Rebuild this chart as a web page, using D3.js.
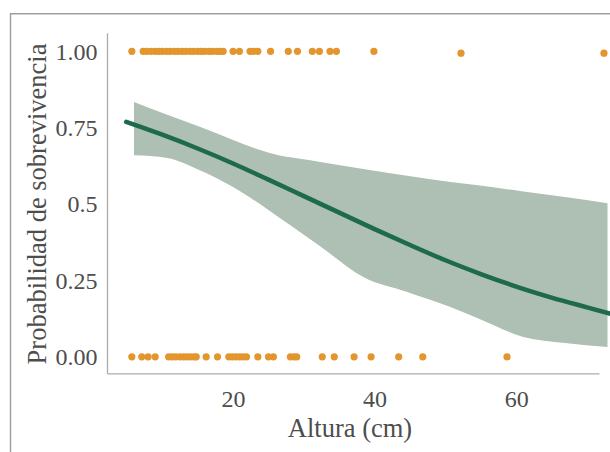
<!DOCTYPE html>
<meta charset="utf-8">
<script src="https://d3js.org/d3.v7.min.js"></script>
<style>
body { margin: 0; background: #fff; }
.tick text { font-family: "Liberation Serif", serif; font-size: 24px; fill: #4d4d4d; }
.domain { stroke: #ababab; stroke-width: 1.3px; }
.titulo { font-family: "Liberation Serif", serif; font-size: 26.5px; fill: #4d4d4d; }
</style>
<div id="chart"></div>
<script>
// logistic fit
var curvaX = [4.9, 10, 15, 20, 25, 30, 35, 40, 45, 50, 55, 60, 65, 70, 73.5];
var curvaP = [0.769, 0.727, 0.682, 0.633, 0.580, 0.526, 0.472, 0.418, 0.366, 0.316, 0.271, 0.230, 0.194, 0.162, 0.140];

// confidence band
var bandaX   = [6.0, 10.7, 15.3, 20, 23.8, 26.6, 29.5, 32.3, 38.4, 44.6, 50.7, 54.9, 61.0, 66.9, 72.9];
var bandaSup = [0.834, 0.792, 0.753, 0.710, 0.677, 0.659, 0.648, 0.638, 0.615, 0.593, 0.572, 0.561, 0.541, 0.523, 0.503];
var bandaInf = [0.660, 0.651, 0.611, 0.556, 0.500, 0.454, 0.408, 0.362, 0.261, 0.212, 0.163, 0.123, 0.065, 0.045, 0.032];

// observed plants: [altura, sobrevivio]
var vivos = [[5.7,1],[7.3,1],[7.8,1],[8.4,1],[9.0,1],[9.5,1],[10.0,1],[10.6,1],[11.1,1],[11.7,1],[12.2,1],
  [12.8,1],[13.3,1],[13.9,1],[14.4,1],[15.0,1],[15.5,1],[16.0,1],[16.6,1],[17.1,1],[17.7,1],[18.2,1],[18.6,1],
  [20.0,1],[20.9,1],[22.4,1],[22.9,1],[23.5,1],[25.3,1],[27.8,1],[29.1,1],[31.2,1],[32.2,1],[33.7,1],[34.6,1],
  [39.9,1],[52.2,0.994],[72.4,0.994]];
var muertos = [[5.7,0],[7.1,0],[8.0,0],[9.0,0],[10.9,0],[11.4,0],[11.9,0],[12.5,0],[13.0,0],[13.5,0],[14.0,0],
  [14.5,0],[14.8,0],[16.2,0],[17.8,0],[19.4,0],[19.9,0],[20.4,0],[20.9,0],[21.4,0],[21.9,0],[23.5,0],[25.0,0],
  [25.7,0],[28.1,0],[28.6,0],[29.0,0],[32.6,0],[34.3,0],[37.1,0],[39.5,0],[43.4,0],[46.8,0],[58.7,0]];

var xTicks = [20, 40, 60];
var yTicks = [0, 0.25, 0.5, 0.75, 1];
var yTickLabels = ["0.00", "0.25", "0.5", "0.75", "1.00"];

var width = 610, height = 452;

var svg = d3.select("#chart").append("svg").attr("width", width).attr("height", height);

// panel border (partly outside the picture)
svg.append("path").attr("d", "M10.5,452V13.7H610")
  .attr("fill", "none").attr("stroke", "#9d9d9d").attr("stroke-width", 1.4);

var x = d3.scaleLinear().domain([2.19, 71.7]).range([107, 599]);
var y = d3.scaleLinear().domain([-0.054, 1.061]).range([373.3, 32.7]);

var banda = bandaX.map(function(d, i) { return {x: d, lo: bandaInf[i], hi: bandaSup[i]}; });
var curva = curvaX.map(function(d, i) { return {x: d, p: curvaP[i]}; });

svg.append("path").datum(banda)
  .attr("fill", "#aebfb3")
  .attr("d", d3.area().curve(d3.curveMonotoneX)
    .x(function(d) { return x(d.x); })
    .y0(function(d) { return y(d.lo); })
    .y1(function(d) { return y(d.hi); }));

svg.append("path").datum(curva)
  .attr("fill", "none").attr("stroke", "#1d6b4c").attr("stroke-width", 4.5).attr("stroke-linecap", "round")
  .attr("d", d3.line().curve(d3.curveMonotoneX)
    .x(function(d) { return x(d.x); })
    .y(function(d) { return y(d.p); }));

svg.append("g").selectAll("circle").data(vivos.concat(muertos)).enter().append("circle")
  .attr("cx", function(d) { return x(d[0]); })
  .attr("cy", function(d) { return y(d[1]); })
  .attr("r", 3.6)
  .attr("fill", "#e3952e");

svg.append("g").attr("transform", "translate(0,373.3)")
  .call(d3.axisBottom(x).tickValues(xTicks).tickSize(0).tickPadding(16.5).tickSizeOuter(0));

svg.append("g").attr("transform", "translate(107,0)")
  .call(d3.axisLeft(y).tickValues(yTicks).tickSize(0).tickPadding(9.5).tickSizeOuter(0)
    .tickFormat(function(d, i) { return yTickLabels[i]; }));

svg.append("text").attr("class", "titulo").attr("x", 350).attr("y", 437)
  .attr("text-anchor", "middle").text("Altura (cm)");

svg.append("text").attr("class", "titulo").attr("transform", "translate(46,204) rotate(-90)")
  .attr("text-anchor", "middle").text("Probabilidad de sobrevivencia");
</script>
